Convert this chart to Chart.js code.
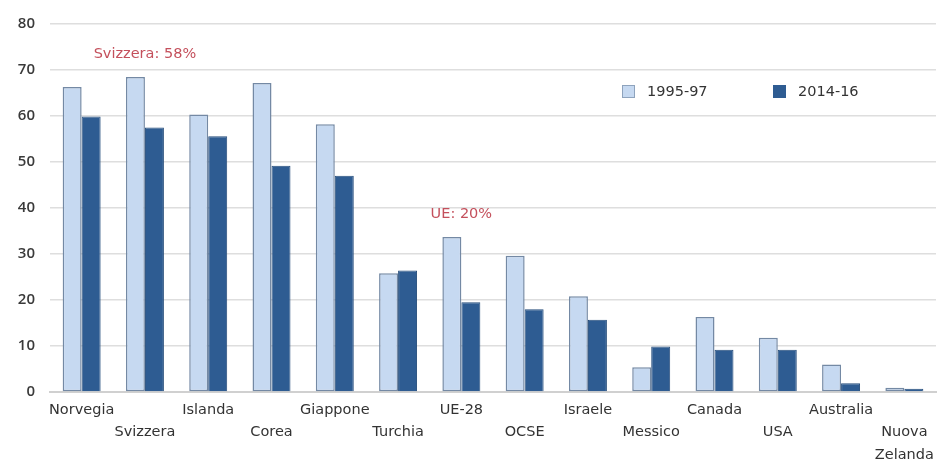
<!DOCTYPE html>
<html>
<head>
<meta charset="utf-8">
<script src="https://cdn.jsdelivr.net/npm/chart.js@4"></script>
<style>
    html, body { margin: 0; padding: 0; background: #fff; }
    #wrap { width: 946px; height: 464px; position: relative; }
</style>
</head>
<body>
<div id="wrap"><canvas id="chart"></canvas></div>
<script>
// ── DATA ──
const categories = ["Norvegia", "Svizzera", "Islanda", "Corea", "Giappone", "Turchia", "UE-28",
    "OCSE", "Israele", "Messico", "Canada", "USA", "Australia", "Nuova Zelanda"];
const seriesNames = ["1995-97", "2014-16"];
const values1995 = [66.3, 68.5, 60.3, 67.2, 58.2, 25.8, 33.7, 29.6, 20.8, 5.4, 16.3, 11.8, 6.0, 0.9];
const values2014 = [59.9, 57.5, 55.6, 49.2, 47.0, 26.4, 19.5, 18.0, 15.7, 9.9, 9.2, 9.2, 1.9, 0.7];
const yTicks = [0, 10, 20, 30, 40, 50, 60, 70, 80];
const notes = [
    { text: "Svizzera: 58%", category: "Svizzera", at: 73.4 },
    { text: "UE: 20%", category: "UE-28", at: 38.6 }
];

const lightBlue = "#c6d9f1";
const darkBlue = "#2e5c92";
const noteColor = "#c4505c";

// x labels sit on two staggered rows; "Nuova Zelanda" breaks on two lines
function xLabel(i) {
    const name = categories[i];
    if (name === "Nuova Zelanda") return ["", "Nuova", "Zelanda"];
    return i % 2 === 0 ? [name] : ["", name];
}

const overlayPlugin = {
    id: "overlay",
    afterDraw(chart) {
        const ctx = chart.ctx;
        const x = chart.scales.x;
        const y = chart.scales.y;

        // annotations
        ctx.save();
        ctx.font = "14.5px 'DejaVu Sans'";
        ctx.fillStyle = noteColor;
        ctx.textAlign = "center";
        ctx.textBaseline = "middle";
        notes.forEach(n => {
            ctx.fillText(n.text, x.getPixelForValue(categories.indexOf(n.category)), y.getPixelForValue(n.at));
        });

        // legend inside the plot
        const items = [
            { label: seriesNames[0], fill: lightBlue, border: "#8ea3bd", left: 622 },
            { label: seriesNames[1], fill: darkBlue, border: darkBlue, left: 773 }
        ];
        ctx.textAlign = "left";
        items.forEach(it => {
            ctx.fillStyle = it.fill;
            ctx.fillRect(it.left, 85, 13, 13);
            ctx.strokeStyle = it.border;
            ctx.lineWidth = 1;
            ctx.strokeRect(it.left + 0.5, 85.5, 12, 12);
            ctx.fillStyle = "#333";
            ctx.fillText(it.label, it.left + 25, 92);
        });
        ctx.restore();
    }
};

new Chart(document.getElementById("chart"), {
    type: "bar",
    data: {
        labels: categories,
        datasets: [
            {
                label: seriesNames[0],
                data: values1995,
                backgroundColor: lightBlue,
                borderColor: "#7489a4",
                borderWidth: 1.5,
                borderSkipped: false,
                categoryPercentage: 0.6,
                barPercentage: 1.0
            },
            {
                label: seriesNames[1],
                data: values2014,
                backgroundColor: darkBlue,
                borderColor: "#264d7b",
                borderWidth: 1,
                categoryPercentage: 0.6,
                barPercentage: 1.0
            }
        ]
    },
    options: {
        responsive: true,
        maintainAspectRatio: false,
        animation: false,
        layout: { padding: { top: 19, right: 10, left: 0, bottom: 0 } },
        scales: {
            x: {
                grid: { display: false, drawTicks: false },
                border: { color: "#d0d0d0", width: 2 },
                afterFit: s => { s.height = 72; },
                ticks: {
                    autoSkip: false,
                    maxRotation: 0,
                    padding: 7,
                    color: "#333",
                    font: { family: "DejaVu Sans", size: 14.5, lineHeight: 1.55 },
                    callback: (v, i) => xLabel(i)
                }
            },
            y: {
                min: 0,
                max: 80,
                afterFit: s => { s.width = 50; },
                afterBuildTicks: s => { s.ticks = yTicks.map(v => ({ value: v })); },
                grid: { color: "#dedede", lineWidth: 1.5, drawTicks: false },
                border: { display: false },
                ticks: {
                    padding: 15,
                    color: "#3a3a3a",
                    font: { family: "Open Sans", size: 15, weight: "600" }
                }
            }
        },
        plugins: {
            legend: { display: false },
            tooltip: { enabled: false }
        }
    },
    plugins: [overlayPlugin]
});
</script>
</body>
</html>
